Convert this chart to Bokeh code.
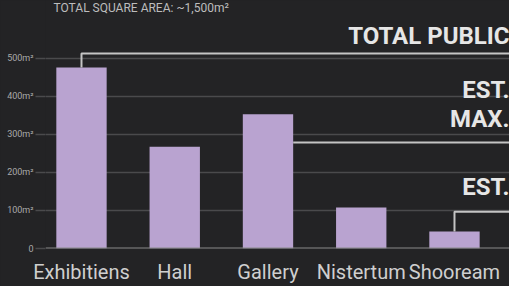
from bokeh.plotting import figure
from bokeh.models import Range1d, FixedTicker, ColumnDataSource, Label
from bokeh.core.properties import value
from bokeh.embed import file_html
from bokeh.resources import INLINE

# ---- data ----
categories = ["Exhibitiens", "Hall", "Gallery", "Nistertum", "Shooream"]
areas = [476, 268, 353, 108, 45]
y_ticks = [0, 100, 200, 300, 400, 500]
y_tick_labels = ["0", "100m²", "200m²", "300m²", "400m²", "500m²"]
title_text = "TOTAL SQUARE AREA: ~1,500m²"
callouts = ["TOTAL PUBLIC", "EST.", "MAX.", "EST."]

# ---- layout / style ----
BG = "#232325"
BAR = "#b9a3d0"
LINE = "#c4c4c4"
bar_w = 0.54
xs = list(range(len(categories)))
x_lo, x_hi = -0.386, 4.59

p = figure(width=509, height=286, output_backend="svg", toolbar_location=None,
           x_range=Range1d(x_lo, x_hi), y_range=Range1d(0, 652.6),
           min_border_left=45, min_border_right=0, min_border_top=0, min_border_bottom=38)
p.background_fill_color = BG
p.border_fill_color = BG
p.outline_line_color = None
p.styles = {"background-color": BG}

src = ColumnDataSource(dict(x=xs, top=areas, cat=categories))
p.vbar(x="x", top="top", width=bar_w, source=src, fill_color=BAR, line_color=None)

# baseline
p.line(x=[x_lo, x_hi], y=[0, 0], line_color="#8a8a8a", line_width=2)

# grid
p.xgrid.grid_line_color = None
p.ygrid.ticker = FixedTicker(ticks=y_ticks[1:])
p.ygrid.grid_line_color = "#4a4a4c"
p.ygrid.grid_line_width = 1.5

# axes
p.xaxis.ticker = FixedTicker(ticks=xs)
p.xaxis.major_label_overrides = {i: c for i, c in zip(xs, categories)}
p.xaxis.axis_line_color = None
p.xaxis.major_tick_line_color = None
p.xaxis.major_tick_out = 0
p.xaxis.major_tick_in = 0
p.xaxis.minor_tick_line_color = None
p.xaxis.major_label_standoff = 11
p.xaxis.major_label_text_font = "Roboto"
p.xaxis.major_label_text_font_size = "20px"
p.xaxis.major_label_text_color = "#cfcfcf"

p.yaxis.ticker = FixedTicker(ticks=y_ticks)
p.yaxis.major_label_overrides = {t: l for t, l in zip(y_ticks, y_tick_labels)}
p.yaxis.axis_line_color = None
p.yaxis.major_tick_line_color = "#4a4a4c"
p.yaxis.major_tick_line_width = 1.5
p.yaxis.major_tick_out = 10
p.yaxis.major_tick_in = 0
p.yaxis.minor_tick_line_color = None
p.yaxis.major_label_standoff = 2
p.yaxis.major_label_text_font = "Roboto"
p.yaxis.major_label_text_font_size = "9px"
p.yaxis.major_label_text_color = "#a9a9a9"

# callout lines
p.line(x=[0, 0, x_hi], y=[areas[0], 513, 513], line_color=LINE, line_width=2)
p.line(x=[2 + bar_w / 2, x_hi], y=[279, 279], line_color=LINE, line_width=2)
p.line(x=[4, 4, x_hi], y=[areas[4], 97, 97], line_color=LINE, line_width=2)

# callout texts
ann = ColumnDataSource(dict(x=[x_hi] * 4, y=[560, 416, 342, 163], t=callouts))
p.text(x="x", y="y", text="t", source=ann, text_align="right", text_baseline="middle",
       text_font=value("Roboto"), text_font_size="24px", text_color="#e6e6e6",
       text_font_style="bold")

p.add_layout(Label(x=-0.3, y=650, x_units="data", y_units="data", text=title_text,
                   text_font="Roboto", text_font_size="12px", text_color="#bdbdbd",
                   text_baseline="top"))

html = file_html(p, INLINE)
html = html.replace("<body", '<body style="background-color:#232325;"', 1)
open("out.html", "w").write(html)
